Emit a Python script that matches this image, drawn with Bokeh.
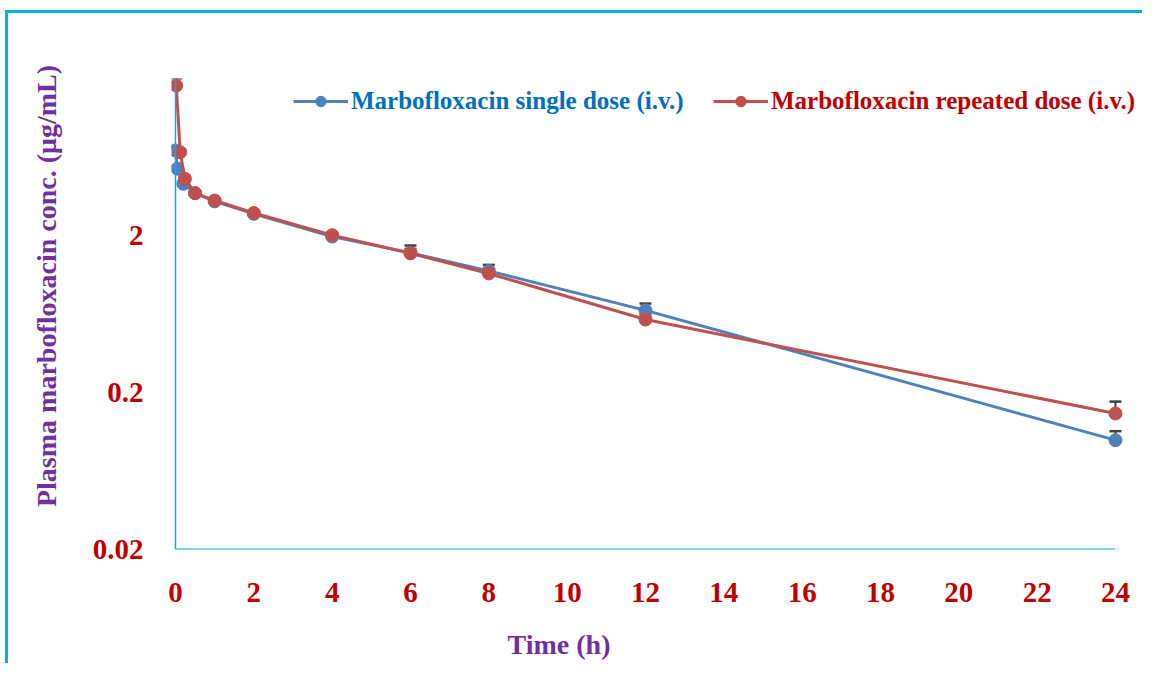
from bokeh.plotting import figure
from bokeh.models import (Legend, LegendItem, Whisker, ColumnDataSource, FixedTicker,
                          Span, TeeHead, Range1d, CustomJSTickFormatter)
from bokeh.embed import file_html
from bokeh.resources import INLINE

# ---- data ----
single_t = [0, 0.05, 0.2, 0.5, 1, 2, 4, 6, 8, 12, 24]
single_conc = [6.96, 5.33, 4.27, 3.72, 3.30, 2.75, 1.97, 1.55, 1.19, 0.667, 0.0994]
single_err = [0.3, 0.2, 0.15, 0.1, 0.1, 0.08, 0.06, 0.18, 0.11, 0.07, 0.014]

repeated_t = [0.02, 0.12, 0.24, 0.5, 1, 2, 4, 6, 8, 12, 24]
repeated_conc = [18.0, 6.78, 4.59, 3.72, 3.34, 2.78, 2.01, 1.54, 1.146, 0.583, 0.147]
repeated_err = [2.1, 0.3, 0.2, 0.1, 0.1, 0.1, 0.08, 0.1, 0.08, 0.04, 0.028]

x_ticks = [0, 2, 4, 6, 8, 10, 12, 14, 16, 18, 20, 22, 24]
y_ticks = [0.02, 0.2, 2]

series_names = ["Marbofloxacin single dose (i.v.)", "Marbofloxacin repeated dose (i.v.)"]
x_title = "Time (h)"
y_title = "Plasma marbofloxacin conc. (μg/mL)"

BLUE = "#4F81BD"
RED = "#C0504D"
AXIS = "#00B0F0"
TICK_COL = "#C00000"
TITLE_COL = "#7030A0"
FONT = "Liberation Serif"

p = figure(width=1142, height=663, y_axis_type="log",
           x_range=Range1d(-0.102, 24.69), y_range=Range1d(0.02, 20),
           output_backend="svg", toolbar_location=None,
           min_border_left=171, min_border_right=0, min_border_top=78, min_border_bottom=114)

# outer frame lines (top and left edges) drawn as the element's background
grad = "linear-gradient(#00B0F0, #00B0F0)"
p.styles = {
    "background-color": "white",
    "background-image": f"{grad}, {grad}",
    "background-position": "5px 10px, 5px 10px",
    "background-size": "3px 100%, 100% 3px",
    "background-repeat": "no-repeat",
}

p.outline_line_color = None
p.grid.visible = False
p.background_fill_color = "white"
p.border_fill_color = None

# axes
for ax in (p.xaxis[0], p.yaxis[0]):
    ax.axis_line_color = None
    ax.major_tick_line_color = None
    ax.minor_tick_line_color = None
    ax.major_label_text_font = FONT
    ax.major_label_text_font_style = "bold"
    ax.major_label_text_font_size = "29px"
    ax.major_label_text_color = TICK_COL
    ax.axis_label_text_font = FONT
    ax.axis_label_text_font_style = "bold"
    ax.axis_label_text_font_size = "28px"
    ax.axis_label_text_color = TITLE_COL

p.xaxis.ticker = FixedTicker(ticks=x_ticks)
p.yaxis.ticker = FixedTicker(ticks=y_ticks, minor_ticks=[])
p.yaxis.formatter = CustomJSTickFormatter(code="return String(Number(tick.toPrecision(3)));")
# em spaces shift the centred titles to where the reference has them
p.xaxis.axis_label = x_title + "\u2003" * 7
p.yaxis.axis_label = "\u2003" * 2 + y_title
p.xaxis.major_label_standoff = 27
p.xaxis.axis_label_standoff = 24
p.yaxis.major_label_standoff = 22
p.yaxis.axis_label_standoff = 28

# axis lines
p.add_layout(Span(location=x_ticks[0], dimension="height", line_color=AXIS, line_width=1.5))
p.segment(x0=[x_ticks[0]], y0=[y_ticks[0]], x1=[x_ticks[-1]], y1=[y_ticks[0]],
          line_color=AXIS, line_width=2)

# error bars
src_s = ColumnDataSource(dict(t=single_t, v=single_conc,
                              u=[a + b for a, b in zip(single_conc, single_err)]))
src_r = ColumnDataSource(dict(t=repeated_t, v=repeated_conc,
                              u=[a + b for a, b in zip(repeated_conc, repeated_err)]))
for src in (src_s, src_r):
    w = Whisker(base="t", lower="v", upper="u", dimension="height", source=src,
                line_color="#404040", line_width=2, level="underlay",
                upper_head=TeeHead(size=12, line_color="#404040", line_width=2.5),
                lower_head=None)
    p.add_layout(w)

# series
l1 = p.line(single_t, single_conc, line_color=BLUE, line_width=3)
s1 = p.scatter(single_t, single_conc, size=13, fill_color=BLUE, line_color=BLUE)
l2 = p.line(repeated_t, repeated_conc, line_color=RED, line_width=3)
s2 = p.scatter(repeated_t, repeated_conc, size=13, fill_color=RED, line_color=RED)

def make_legend(label, rends, color, loc):
    leg = Legend(items=[LegendItem(label=label, renderers=rends)], location=loc,
                 orientation="horizontal", padding=0, margin=0, spacing=0,
                 glyph_width=55, glyph_height=26, label_height=26, label_standoff=3,
                 label_text_font=FONT, label_text_font_style="bold",
                 label_text_font_size="25px", label_text_color=color,
                 border_line_color=None, background_fill_alpha=0)
    p.add_layout(leg)

make_legend(series_names[0], [l1, s1], "#0070C0", (122, 434))
make_legend(series_names[1], [l2, s2], TICK_COL, (542, 434))

open("out.html", "w").write(file_html(p, INLINE))
